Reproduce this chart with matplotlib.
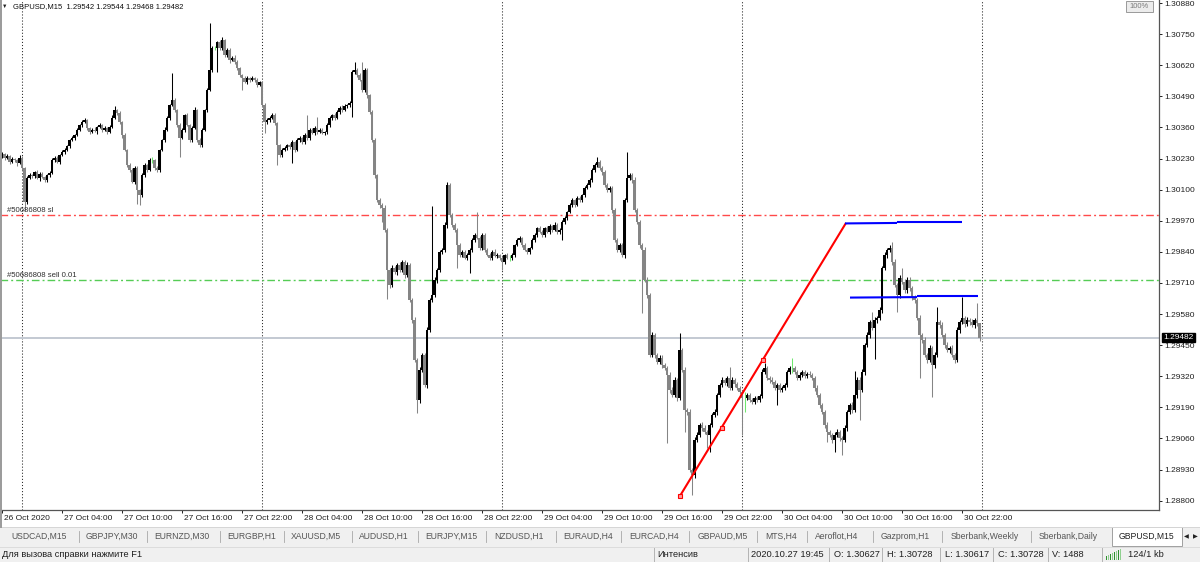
import matplotlib
matplotlib.use("Agg")
import matplotlib.pyplot as plt
from matplotlib.patches import Rectangle
import matplotlib.transforms as mtransforms

plt.rcParams['font.family'] = ['Liberation Sans', 'DejaVu Sans']
plt.rcParams['lines.scale_dashes'] = False

# ---------------- data (GBPUSD M15, prices in points: price = 1 + pts/1e5) ----------------
first_open_pts = 30240
close_pts = [
    30249, 30233, 30241, 30216, 30228, 30224, 30212, 30233,
    30191, 30049, 30149, 30161, 30157, 30174, 30149, 30166, 30153, 30141, 30161, 30170,
    30224, 30233, 30216, 30245, 30258, 30266, 30283, 30308, 30316, 30329, 30350, 30370,
    30383, 30391, 30358, 30341, 30350, 30345, 30362, 30370, 30350, 30358, 30341, 30362,
    30400, 30433, 30421, 30383, 30329, 30266, 30203, 30182, 30132, 30191, 30099, 30078,
    30161, 30203, 30182, 30224, 30224, 30191, 30182, 30266, 30308, 30350, 30400, 30454,
    30475, 30433, 30370, 30316, 30350, 30412, 30370, 30308, 30358, 30433, 30308, 30287,
    30350, 30433, 30517, 30600, 30692, 30692, 30717, 30692, 30726, 30663, 30684, 30642,
    30651, 30634, 30609, 30580, 30567, 30550, 30567, 30559, 30567, 30559, 30538, 30550,
    30454, 30383, 30391, 30400, 30412, 30379, 30287, 30245, 30266, 30274, 30287, 30279,
    30299, 30266, 30308, 30316, 30299, 30329, 30316, 30350, 30337, 30358, 30341, 30350,
    30337, 30341, 30370, 30400, 30412, 30400, 30425, 30442, 30433, 30450, 30454, 30462,
    30592, 30600, 30580, 30559, 30517, 30600, 30496, 30425, 30308, 30161, 30057, 30036,
    30024, 29932, 29764, 29702, 29773, 29756, 29785, 29764, 29798, 29743, 29785, 29639,
    29555, 29388, 29221, 29346, 29409, 29284, 29514, 29639, 29660, 29723, 29764, 29840,
    29848, 29953, 30120, 29994, 29953, 29932, 29869, 29827, 29840, 29815, 29827, 29848,
    29890, 29911, 29898, 29856, 29911, 29848, 29827, 29815, 29840, 29823, 29827, 29815,
    29798, 29827, 29815, 29815, 29827, 29869, 29890, 29898, 29869, 29848, 29840, 29856,
    29890, 29911, 29940, 29923, 29911, 29940, 29923, 29948, 29932, 29953, 29923, 29932,
    29965, 29982, 30007, 30036, 30057, 30036, 30065, 30057, 30078, 30107, 30120, 30141,
    30182, 30203, 30216, 30191, 30174, 30120, 30099, 30107, 30015, 29890, 29848, 29869,
    29827, 30057, 30149, 30161, 30141, 30015, 29965, 29869, 29848, 29723, 29660, 29409,
    29493, 29409, 29380, 29397, 29367, 29355, 29326, 29263, 29242, 29305, 29229, 29430,
    29346, 29179, 29171, 28928, 28908, 29054, 29075, 29117, 29104, 29087, 29075, 29117,
    29158, 29171, 29242, 29284, 29305, 29292, 29313, 29271, 29305, 29288, 29271, 29254,
    29229, 29229, 29242, 29221, 29213, 29229, 29221, 29238, 29338, 29355, 29313, 29305,
    29296, 29271, 29284, 29263, 29271, 29284, 29338, 29355, 29355, 29338, 29313, 29326,
    29338, 29321, 29330, 29326, 29313, 29271, 29242, 29200, 29171, 29117, 29087, 29075,
    29054, 29075, 29087, 29062, 29054, 29104, 29171, 29200, 29179, 29242, 29305, 29263,
    29338, 29451, 29493, 29547, 29522, 29555, 29564, 29597, 29773, 29827, 29848, 29856,
    29798, 29702, 29660, 29731, 29714, 29680, 29723, 29689, 29647, 29639, 29564, 29493,
    29472, 29409, 29388, 29438, 29367, 29409, 29547, 29535, 29493, 29451, 29430, 29438,
    29409, 29388, 29514, 29547, 29564, 29539, 29555, 29547, 29535, 29555, 29542, 29482,
]
up_wick_pts = [
    8, 6, 10, 5, 8, 6, 4, 10,
    6, 4, 8, 10, 6, 5, 8, 6, 10, 4, 6, 8, 10, 6, 8, 5, 6, 8, 4, 6, 10, 5, 8, 6,
    8, 10, 6, 5, 8, 10, 6, 8, 5, 10, 6, 8, 12, 15, 6, 8, 5, 10, 6, 8, 10, 6, 8, 5,
    10, 8, 6, 8, 12, 6, 8, 5, 6, 10, 8, 6, 113, 8, 6, 10, 8, 5, 10, 6, 8, 12, 6, 10,
    8, 6, 10, 196, 8, 10, 6, 8, 12, 6, 10, 8, 6, 10, 8, 6, 5, 8, 10, 6, 8, 5, 10, 6,
    6, 10, 8, 6, 10, 8, 6, 5, 10, 8, 6, 10, 8, 6, 10, 8, 6, 10, 84, 8, 6, 10, 46, 8,
    8, 6, 10, 8, 6, 10, 8, 6, 10, 8, 6, 10, 8, 33, 10, 8, 75, 10, 8, 6, 10, 8, 6, 10,
    10, 12, 8, 10, 12, 8, 10, 12, 8, 10, 12, 10, 8, 12, 10, 12, 8, 10, 12, 8, 370, 12, 10, 8,
    8, 10, 12, 8, 10, 6, 8, 10, 6, 8, 10, 8, 6, 8, 96, 10, 8, 6, 10, 8, 6, 10, 8, 6,
    8, 6, 10, 12, 8, 6, 10, 8, 6, 10, 8, 6, 10, 8, 6, 10, 8, 6, 10, 8, 6, 10, 8, 6,
    8, 10, 6, 8, 10, 6, 8, 10, 6, 8, 10, 8, 10, 8, 21, 10, 8, 10, 8, 10, 8, 10, 8, 10,
    10, 8, 109, 10, 8, 12, 10, 8, 10, 12, 10, 8, 12, 10, 8, 10, 12, 10, 8, 10, 12, 10, 8, 71,
    10, 12, 10, 12, 10, 12, 10, 8, 10, 12, 10, 8, 10, 12, 10, 8, 10, 8, 10, 46, 10, 8, 10, 8,
    10, 25, 8, 10, 8, 10, 8, 10, 12, 21, 10, 8, 10, 8, 10, 8, 10, 8, 10, 8, 42, 10, 8, 10,
    8, 10, 8, 10, 8, 10, 12, 10, 8, 10, 12, 10, 8, 10, 12, 10, 8, 12, 10, 8, 12, 100, 10, 12,
    12, 10, 12, 10, 40, 12, 10, 12, 10, 12, 10, 12, 25, 12, 10, 12, 42, 12, 10, 12, 10, 12, 10, 12,
    10, 12, 10, 12, 10, 12, 63, 10, 12, 10, 12, 10, 12, 10, 12, 10, 88, 10, 12, 10, 12, 10, 71, 2,
]
dn_wick_pts = [
    6, 8, 5, 10, 6, 8, 12, 5,
    10, 38, 8, 6, 10, 8, 5, 12, 6, 8, 10, 6, 4, 8, 6, 10, 5, 8, 6, 10, 4, 8, 6, 5,
    6, 5, 10, 8, 6, 5, 12, 6, 10, 5, 8, 6, 5, 4, 10, 8, 12, 6, 8, 10, 6, 8, 60, 40,
    8, 6, 10, 5, 12, 8, 10, 6, 5, 8, 6, 10, 5, 8, 10, 80, 6, 8, 5, 10, 8, 6, 10, 8,
    10, 6, 8, 5, 6, 10, 100, 8, 6, 10, 8, 12, 6, 8, 10, 8, 50, 6, 10, 8, 6, 10, 8, 6,
    10, 46, 8, 10, 6, 8, 84, 10, 8, 6, 10, 8, 67, 10, 6, 8, 10, 6, 8, 10, 6, 8, 10, 6,
    6, 10, 8, 6, 10, 8, 6, 10, 8, 6, 10, 8, 59, 8, 10, 6, 8, 10, 12, 10, 8, 12, 10, 12,
    60, 10, 120, 12, 10, 8, 12, 10, 8, 12, 10, 8, 12, 10, 54, 12, 10, 8, 12, 10, 8, 10, 12, 8,
    10, 8, 12, 10, 8, 10, 96, 8, 10, 6, 8, 75, 10, 8, 6, 10, 8, 10, 6, 8, 10, 6, 8, 10,
    33, 8, 6, 15, 8, 10, 6, 8, 10, 6, 8, 10, 6, 8, 10, 6, 8, 10, 6, 8, 10, 6, 8, 10,
    42, 8, 10, 6, 8, 10, 6, 8, 10, 8, 6, 10, 8, 10, 8, 10, 12, 10, 8, 10, 12, 10, 8, 10,
    10, 12, 8, 10, 12, 10, 8, 12, 263, 10, 12, 10, 8, 12, 10, 8, 12, 10, 284, 12, 10, 8, 12, 10,
    10, 92, 12, 10, 84, 12, 10, 8, 12, 10, 54, 71, 10, 8, 12, 10, 8, 10, 12, 8, 10, 12, 8, 10,
    155, 58, 10, 8, 10, 8, 10, 8, 10, 8, 10, 12, 10, 8, 71, 10, 8, 10, 8, 10, 21, 10, 8, 10,
    10, 8, 10, 8, 10, 12, 10, 12, 10, 12, 42, 10, 12, 50, 10, 12, 63, 10, 12, 10, 12, 10, 12, 125,
    10, 12, 10, 12, 10, 130, 12, 10, 12, 10, 12, 10, 12, 10, 71, 12, 10, 12, 10, 12, 10, 12, 10, 180,
    12, 10, 12, 10, 134, 12, 10, 12, 10, 12, 10, 12, 10, 12, 10, 12, 10, 12, 10, 12, 10, 12, 10, 14,
]

day_start_bars = [8, 104, 200, 296, 392]
time_tick_bars = [0, 24, 48, 72, 96, 120, 144, 168, 192, 216, 240, 264, 288, 312, 336, 360, 384]
time_labels = ["26 Oct 2020", "27 Oct 04:00", "27 Oct 10:00", "27 Oct 16:00", "27 Oct 22:00",
               "28 Oct 04:00", "28 Oct 10:00", "28 Oct 16:00", "28 Oct 22:00", "29 Oct 04:00",
               "29 Oct 10:00", "29 Oct 16:00", "29 Oct 22:00", "30 Oct 04:00", "30 Oct 10:00",
               "30 Oct 16:00", "30 Oct 22:00"]
price_ticks = [1.30880, 1.30750, 1.30620, 1.30490, 1.30360, 1.30230, 1.30100, 1.29970, 1.29840,
               1.29710, 1.29580, 1.29450, 1.29320, 1.29190, 1.29060, 1.28930, 1.28800]

sl_price = 1.29994
sell_price = 1.29723
bid_price = 1.29482

red_trend_bars = [271.2, 337.6]
red_trend_prices = [1.28820, 1.29961]
red_point_bars = [271.2, 288.0, 304.4]
red_point_prices = [1.28820, 1.29104, 1.29388]
blue_upper = [([337.2, 358.0], [1.29959, 1.29961]), ([358.0, 384.0], [1.29963, 1.29963])]
blue_lower = [([339.2, 366.0], [1.29649, 1.29651]), ([366.0, 390.4], [1.29655, 1.29655])]

header_text = "GBPUSD,M15  1.29542 1.29544 1.29468 1.29482"
tabs = ["USDCAD,M15", "GBPJPY,M30", "EURNZD,M30", "EURGBP,H1", "XAUUSD,M5", "AUDUSD,H1",
        "EURJPY,M15", "NZDUSD,H1", "EURAUD,H4", "EURCAD,H4", "GBPAUD,M5", "MTS,H4",
        "Aeroflot,H4", "Gazprom,H1", "Sberbank,Weekly", "Sberbank,Daily"]
active_tab = "GBPUSD,M15"
status_items = ["Интенсив", "2020.10.27 19:45", "O: 1.30627", "H: 1.30728", "L: 1.30617",
                "C: 1.30728", "V: 1488", "124/1 kb"]
help_text = "Для вызова справки нажмите F1"

# ---------------- build OHLC ----------------
closes = [1 + v / 1e5 for v in close_pts]
opens = [1 + first_open_pts / 1e5] + closes[:-1]
highs = [max(o, c) + u / 1e5 for o, c, u in zip(opens, closes, up_wick_pts)]
lows = [min(o, c) - d / 1e5 for o, c, d in zip(opens, closes, dn_wick_pts)]
n = len(closes)
idx = list(range(n))

W, H = 1200, 562
fig = plt.figure(figsize=(12, 5.62), dpi=100)
fig.patch.set_facecolor('white')

ax = fig.add_axes([0, 52 / H, 1159 / W, 510 / H], zorder=2)
ax.set_facecolor('white')
ax.set_xlim(-0.8, 462.8)
ax.set_ylim(1.28761, 1.30893)

BULL, BEAR, DOJI = '#000000', '#858585', '#6fe86f'
cols = []
for o, c in zip(opens, closes):
    cols.append(BULL if c > o else (BEAR if c < o else DOJI))

ax.vlines(idx, lows, highs, colors=cols, linewidth=0.75, zorder=3)
body_bottom = [min(o, c) for o, c in zip(opens, closes)]
body_h = [max(abs(c - o), 0.000015) for o, c in zip(opens, closes)]
ax.bar(idx, body_h, bottom=body_bottom, width=0.85, color=cols, linewidth=0, zorder=3)

# day separators
for b in day_start_bars:
    ax.axvline(b, color='#303030', linewidth=0.75, linestyle=(0, (0.8, 1.4)), zorder=1)

# order lines
dashdot = (0, (5.5, 2.2, 1.4, 2.2))
ax.axhline(sl_price, color='#ff4a4a', linewidth=1.0, linestyle=dashdot, zorder=2)
ax.axhline(sell_price, color='#55cc55', linewidth=1.0, linestyle=dashdot, zorder=2)
ax.axhline(bid_price, color='#c3c9d2', linewidth=1.4, zorder=1.5)
lbl_tr = mtransforms.blended_transform_factory(ax.transAxes, ax.transData)
ax.text(7 / 1159, sl_price + 0.00003, "#50686808 sl", transform=lbl_tr, fontsize=5.6,
        color='#303030', va='bottom', ha='left', zorder=4)
ax.text(7 / 1159, sell_price + 0.00003, "#50686808 sell 0.01", transform=lbl_tr, fontsize=5.6,
        color='#303030', va='bottom', ha='left', zorder=4)

# trend lines
ax.plot(red_trend_bars, red_trend_prices, color='#ff0000', linewidth=1.5, zorder=5,
        solid_capstyle='butt')
ax.plot(red_point_bars, red_point_prices, linestyle='none', marker='s', markersize=3,
        markerfacecolor='#ff9a9a', markeredgecolor='#ff0000', markeredgewidth=0.8, zorder=6)
for xs, ys in blue_upper + blue_lower:
    ax.plot(xs, ys, color='#0000ff', linewidth=1.5, zorder=5, solid_capstyle='butt')

# axes / ticks
for s in ['top', 'left']:
    ax.spines[s].set_visible(False)
for s in ['right', 'bottom']:
    ax.spines[s].set_color('#555555')
    ax.spines[s].set_linewidth(0.9)
ax.yaxis.tick_right()
ax.set_yticks(price_ticks)
ax.set_yticklabels([f"{p:.5f}" for p in price_ticks])
ax.tick_params(axis='y', direction='out', length=2.2, width=0.7, pad=1.6, labelsize=6,
               colors='#202020')
ax.set_xticks(time_tick_bars)
ax.set_xticklabels(time_labels, ha='left')
ax.tick_params(axis='x', direction='out', length=2.2, width=0.7, pad=1.2, labelsize=6,
               colors='#202020')
off = mtransforms.ScaledTranslation(2 / 100, 0, fig.dpi_scale_trans)
for lbl in ax.get_xticklabels():
    lbl.set_transform(lbl.get_transform() + off)

ax.annotate(f"{bid_price:.5f}", xy=(1, bid_price), xycoords=('axes fraction', 'data'),
            xytext=(3.2, 0), textcoords='offset points', fontsize=6, color='white',
            va='center', ha='left', annotation_clip=False, zorder=10,
            bbox=dict(boxstyle='square,pad=0.15', fc='black', ec='black'))

# ---------------- window chrome (pixel coordinates) ----------------
uib = fig.add_axes([0, 0, 1, 1], zorder=0)
uib.set_xlim(0, W)
uib.set_ylim(H, 0)
uib.axis('off')
uib.add_patch(Rectangle((0, 527), W, 19, facecolor='#f0f0f0', edgecolor='none'))
uib.add_patch(Rectangle((0, 546), W, 16, facecolor='#f0f0f0', edgecolor='none'))
uib.plot([0, W], [527, 527], color='#d6d6d6', linewidth=0.7)
uib.plot([0, W], [546.5, 546.5], color='#dcdcdc', linewidth=0.7)

tab_x = [11.5, 86, 154.4, 227, 291, 359, 425, 494, 563, 629.5, 697.7, 765.5, 814.6, 880.8,
         950.6, 1038.7]
sep_x = [78.5, 147, 219.5, 283.5, 351.7, 417.6, 485.8, 555.6, 621, 689.3, 757, 807, 872.8,
         942, 1031]
for t, x in zip(tabs, tab_x):
    uib.text(x, 536.5, t, fontsize=6.2, color='#555555', va='center', ha='left')
for x in sep_x:
    uib.plot([x, x], [531, 542], color='#a8a8a8', linewidth=0.6)
act = Rectangle((1111.5, 527), 70.5, 19, facecolor='white', edgecolor='#a0a0a0', linewidth=0.7)
uib.add_patch(act)
t_act = uib.text(1119, 536.5, active_tab, fontsize=6.2, color='#202020', va='center', ha='left')
t_act.set_clip_path(act)
uib.text(1186, 536.5, "◀", fontsize=4.5, color='#202020', va='center', ha='center')
uib.text(1195, 536.5, "▶", fontsize=4.5, color='#202020', va='center', ha='center')

uib.text(2, 554.5, help_text, fontsize=6.7, color='#202020', va='center', ha='left')
stat_x = [657.5, 751, 833.7, 887, 944.8, 998.5, 1052, 1128]
stat_sep = [653.6, 747.5, 828.7, 882, 940, 992.7, 1048, 1102]
for t, x in zip(status_items, stat_x):
    uib.text(x, 554.5, t, fontsize=6.7, color='#202020', va='center', ha='left')
for x in stat_sep:
    uib.plot([x, x], [548, 561], color='#b4b4b4', linewidth=0.7)
for k in range(8):
    hgt = 4 + k * 1.0
    uib.add_patch(Rectangle((1106 + k * 2, 560 - hgt), 1.4, hgt,
                            facecolor='#2f8f2f' if k % 2 == 0 else '#8fd08f', edgecolor='none'))

uif = fig.add_axes([0, 0, 1, 1], zorder=5)
uif.set_xlim(0, W)
uif.set_ylim(H, 0)
uif.axis('off')
uif.patch.set_alpha(0)
uif.text(5, 6.3, "▼", fontsize=4, color='#202020', va='center', ha='center')
uif.text(12.7, 6.3, header_text, fontsize=5.5, color='#101010', va='center', ha='left')
uif.add_patch(Rectangle((1126, 1), 27, 11, facecolor='#ececec', edgecolor='#9a9a9a',
                        linewidth=0.7))
uif.text(1139.5, 6.7, "100%", fontsize=5.5, color='#7a7a7a', va='center', ha='center')
uif.plot([0.8, 0.8], [0, 527], color='#9a9a9a', linewidth=1.4)

fig.savefig("out.png", dpi=100, facecolor='white')
